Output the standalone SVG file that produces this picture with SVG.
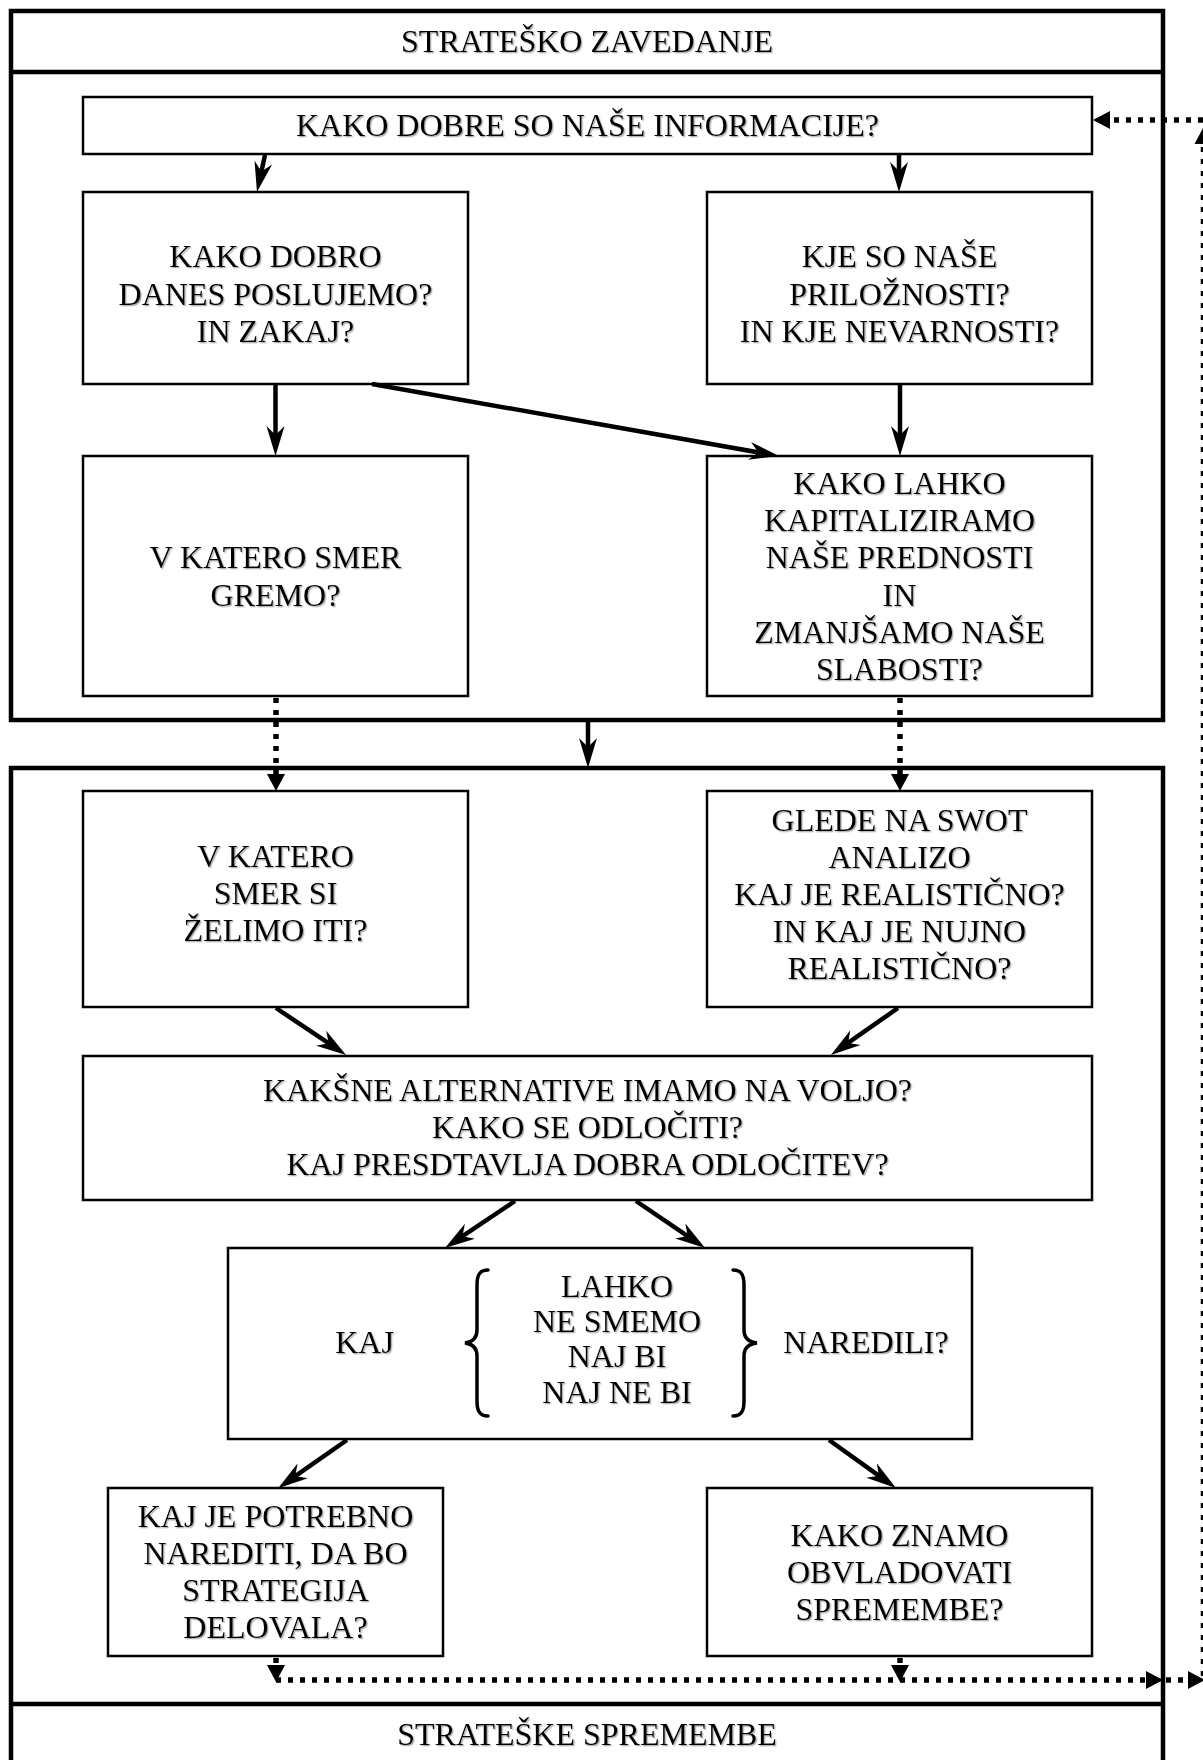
<svg xmlns="http://www.w3.org/2000/svg" width="1203" height="1760" viewBox="0 0 1203 1760">
  <style>
    .bg { fill: #ffffff; }
    .section { fill: none; stroke: #000; stroke-width: 4.5; }
    .box { fill: #ffffff; stroke: #000; stroke-width: 2.5; }
    .lbl { font-family: "Liberation Serif", "Times New Roman", serif; font-size: 32px; fill: #000; text-anchor: middle; filter: url(#soft); }
    .solid { fill: none; stroke: #000; stroke-width: 4.5; marker-end: url(#head); }
    .dots { fill: none; stroke: #000; stroke-width: 5.5; stroke-dasharray: 5 7; marker-end: url(#tri); }
    .brace { fill: none; stroke: #000; stroke-width: 3.5; stroke-linecap: round; }
  </style>
  <defs>
    <filter id="soft" x="-5%" y="-20%" width="110%" height="140%">
      <feDropShadow dx="1.3" dy="1.3" stdDeviation="0.6" flood-color="#777" flood-opacity="0.6"/>
    </filter>
    <!-- barbed arrowhead for solid flows -->
    <marker id="head" markerUnits="userSpaceOnUse" markerWidth="34" markerHeight="22" viewBox="0 -11 34 22" refX="20" refY="0" orient="auto">
      <path d="M0,-9 L30,0 L0,9 L9,0 Z" fill="#000"/>
    </marker>
    <!-- plain triangle for dotted feedback flows -->
    <marker id="tri" markerUnits="userSpaceOnUse" markerWidth="20" markerHeight="20" viewBox="0 -10 20 20" refX="3" refY="0" orient="auto">
      <path d="M0,-9 L17,0 L0,9 Z" fill="#000"/>
    </marker>
  </defs>

  <rect class="bg" x="0" y="0" width="1203" height="1760"/>

  <!-- upper section: strategic planning -->
  <g id="section-zavedanje">
    <rect class="section" x="11" y="11" width="1152" height="709"/>
    <line class="section" x1="11" y1="72" x2="1163" y2="72"/>
    <text class="lbl" x="587" y="52">STRATEŠKO ZAVEDANJE</text>
  </g>

  <!-- lower section: strategic change -->
  <g id="section-spremembe">
    <rect class="section" x="11" y="768" width="1152" height="1040"/>
    <line class="section" x1="11" y1="1704" x2="1163" y2="1704"/>
    <text class="lbl" x="587" y="1745">STRATEŠKE SPREMEMBE</text>
  </g>

  <g id="n-informacije">
    <rect class="box" x="83" y="97" width="1009" height="57"/>
    <text class="lbl" x="587.5" y="136">KAKO DOBRE SO NAŠE INFORMACIJE?</text>
  </g>

  <g id="n-poslujemo">
    <rect class="box" x="83" y="192" width="385" height="192"/>
    <text class="lbl" x="275.5" y="267">KAKO DOBRO</text>
    <text class="lbl" x="275.5" y="305">DANES POSLUJEMO?</text>
    <text class="lbl" x="275.5" y="342">IN ZAKAJ?</text>
  </g>

  <g id="n-priloznosti">
    <rect class="box" x="707" y="192" width="385" height="192"/>
    <text class="lbl" x="899.5" y="267">KJE SO NAŠE</text>
    <text class="lbl" x="899.5" y="305">PRILOŽNOSTI?</text>
    <text class="lbl" x="899.5" y="342">IN KJE NEVARNOSTI?</text>
  </g>

  <g id="n-smer">
    <rect class="box" x="83" y="456" width="385" height="240"/>
    <text class="lbl" x="275.5" y="568">V KATERO SMER</text>
    <text class="lbl" x="275.5" y="606">GREMO?</text>
  </g>

  <g id="n-kapitaliziramo">
    <rect class="box" x="707" y="456" width="385" height="240"/>
    <text class="lbl" x="899.5" y="494">KAKO LAHKO</text>
    <text class="lbl" x="899.5" y="531">KAPITALIZIRAMO</text>
    <text class="lbl" x="899.5" y="568">NAŠE PREDNOSTI</text>
    <text class="lbl" x="899.5" y="606">IN</text>
    <text class="lbl" x="899.5" y="643">ZMANJŠAMO NAŠE</text>
    <text class="lbl" x="899.5" y="680">SLABOSTI?</text>
  </g>

  <g id="n-zelimo">
    <rect class="box" x="83" y="791" width="385" height="216"/>
    <text class="lbl" x="275.5" y="867">V KATERO</text>
    <text class="lbl" x="275.5" y="904">SMER SI</text>
    <text class="lbl" x="275.5" y="941">ŽELIMO ITI?</text>
  </g>

  <g id="n-swot">
    <rect class="box" x="707" y="791" width="385" height="216"/>
    <text class="lbl" x="899.5" y="831">GLEDE NA SWOT</text>
    <text class="lbl" x="899.5" y="868">ANALIZO</text>
    <text class="lbl" x="899.5" y="905">KAJ JE REALISTIČNO?</text>
    <text class="lbl" x="899.5" y="942">IN KAJ JE NUJNO</text>
    <text class="lbl" x="899.5" y="979">REALISTIČNO?</text>
  </g>

  <g id="n-alternative">
    <rect class="box" x="83" y="1056" width="1009" height="144"/>
    <text class="lbl" x="587.5" y="1101">KAKŠNE ALTERNATIVE IMAMO NA VOLJO?</text>
    <text class="lbl" x="587.5" y="1138">KAKO SE ODLOČITI?</text>
    <text class="lbl" x="587.5" y="1175">KAJ PRESDTAVLJA DOBRA ODLOČITEV?</text>
  </g>

  <g id="n-naredili">
    <rect class="box" x="228" y="1248" width="744" height="191"/>
    <text class="lbl" x="364.5" y="1353">KAJ</text>
    <path class="brace" d="M488,1270 C479,1270 477,1276 477,1285 L477,1330 C477,1338 473,1342 465,1343 C473,1344 477,1348 477,1356 L477,1401 C477,1410 479,1416 488,1416"/>
    <text class="lbl" x="617" y="1297">LAHKO</text>
    <text class="lbl" x="617" y="1332">NE SMEMO</text>
    <text class="lbl" x="617" y="1367">NAJ BI</text>
    <text class="lbl" x="617" y="1403">NAJ NE BI</text>
    <path class="brace" d="M733,1270 C742,1270 744,1276 744,1285 L744,1330 C744,1338 748,1342 757,1343 C748,1344 744,1348 744,1356 L744,1401 C744,1410 742,1416 733,1416"/>
    <text class="lbl" x="866" y="1353">NAREDILI?</text>
  </g>

  <g id="n-potrebno">
    <rect class="box" x="108" y="1488" width="335" height="168"/>
    <text class="lbl" x="275.5" y="1527">KAJ JE POTREBNO</text>
    <text class="lbl" x="275.5" y="1564">NAREDITI, DA BO</text>
    <text class="lbl" x="275.5" y="1601">STRATEGIJA</text>
    <text class="lbl" x="275.5" y="1638">DELOVALA?</text>
  </g>

  <g id="n-obvladovati">
    <rect class="box" x="707" y="1488" width="385" height="168"/>
    <text class="lbl" x="899.5" y="1546">KAKO ZNAMO</text>
    <text class="lbl" x="899.5" y="1583">OBVLADOVATI</text>
    <text class="lbl" x="899.5" y="1620">SPREMEMBE?</text>
  </g>

  <g id="connectors">
    <!-- solid flows -->
    <line class="solid" x1="265" y1="155" x2="259.1" y2="182.2"/>
    <line class="solid" x1="899" y1="155" x2="899" y2="182"/>
    <line class="solid" x1="275.5" y1="385" x2="275.5" y2="446"/>
    <line class="solid" x1="900" y1="385" x2="900" y2="446"/>
    <line class="solid" x1="372" y1="384" x2="769.2" y2="454.3"/>
    <line class="solid" x1="588" y1="722" x2="588" y2="758"/>
    <line class="solid" x1="276" y1="1008" x2="337.8" y2="1049.4"/>
    <line class="solid" x1="898" y1="1008" x2="839.1" y2="1049.2"/>
    <line class="solid" x1="515" y1="1201" x2="453.3" y2="1242.4"/>
    <line class="solid" x1="636" y1="1201" x2="696.8" y2="1242.3"/>
    <line class="solid" x1="347" y1="1440" x2="286.3" y2="1482.4"/>
    <line class="solid" x1="829" y1="1440" x2="887.8" y2="1482.2"/>

    <!-- dotted flows between sections -->
    <line class="dots" x1="276" y1="698" x2="276" y2="777"/>
    <line class="dots" x1="900" y1="698" x2="900" y2="777"/>

    <!-- dotted feedback loop -->
    <line class="dots" x1="276" y1="1658" x2="276" y2="1668"/>
    <line class="dots" x1="900" y1="1658" x2="900" y2="1668"/>
    <line class="dots" x1="276" y1="1680" x2="1149" y2="1680"/>
    <line class="dots" x1="1166" y1="1680" x2="1191" y2="1680"/>
    <line class="dots" x1="1203.5" y1="1676" x2="1203.5" y2="141"/>
    <line class="dots" x1="1203" y1="120" x2="1107" y2="120"/>
  </g>
</svg>
